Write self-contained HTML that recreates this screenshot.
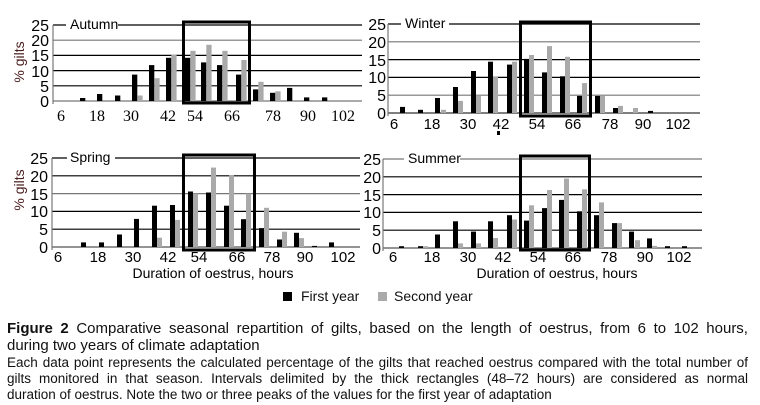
<!DOCTYPE html>
<html><head><meta charset="utf-8"><style>
body{margin:0;background:#fff;width:760px;height:405px;overflow:hidden;position:relative;font-family:"Liberation Sans",Arial,sans-serif;}
.cap{position:absolute;left:7px;width:741px;color:#111;white-space:nowrap;}
.j{text-align:justify;text-align-last:justify;white-space:normal;}
</style></head><body>
<svg width="760" height="290" style="position:absolute;left:0;top:0" font-family="Liberation Sans, Arial, sans-serif">
<!-- Autumn -->
<g stroke-width="1.2">
<line x1="53" y1="25" x2="362" y2="25" stroke="#000"/>
<line x1="53" y1="40.2" x2="362" y2="40.2" stroke="#777"/>
<line x1="53" y1="55.4" x2="362" y2="55.4" stroke="#000"/>
<line x1="53" y1="70.6" x2="362" y2="70.6" stroke="#000"/>
<line x1="53" y1="85.8" x2="362" y2="85.8" stroke="#000"/>
<line x1="53" y1="101" x2="362" y2="101" stroke="#777"/>
<line x1="53" y1="25" x2="53" y2="104" stroke="#777"/>
</g>
<rect x="66" y="17" width="52" height="14" fill="#fff"/>
<text x="70" y="29" font-size="14">Autumn</text>
<g font-size="16" text-anchor="end"><text x="49" y="31">25</text><text x="49" y="46">20</text><text x="49" y="61">15</text><text x="49" y="77">10</text><text x="49" y="92">5</text><text x="49" y="107">0</text></g>
<text transform="translate(24,62) rotate(-90)" font-size="14" text-anchor="middle" fill="#4a2020">% gilts</text>
<g fill="#000">
<rect x="80" y="98" width="5.3" height="3"/><rect x="97" y="94" width="5.3" height="7"/><rect x="115" y="95.5" width="5.3" height="5.5"/>
<rect x="132" y="74.6" width="5.3" height="26.4"/><rect x="149" y="65.1" width="5.3" height="35.9"/><rect x="166" y="57.8" width="5.3" height="43.2"/>
<rect x="185" y="57.8" width="5.3" height="43.2"/><rect x="201" y="62.4" width="5.3" height="38.6"/><rect x="217" y="65.1" width="5.3" height="35.9"/>
<rect x="236" y="74.6" width="5.3" height="26.4"/><rect x="253" y="89.4" width="5.3" height="11.6"/><rect x="270" y="92.8" width="5.3" height="8.2"/>
<rect x="287" y="87.9" width="5.3" height="13.1"/><rect x="304" y="97.4" width="5.3" height="3.6"/><rect x="322" y="97.4" width="5.3" height="3.6"/>
</g>
<g fill="#aaa">
<rect x="137.3" y="95.5" width="5.3" height="5.5"/><rect x="154.3" y="78.2" width="5.3" height="22.8"/><rect x="171.3" y="54.5" width="5.3" height="46.5"/>
<rect x="190.3" y="50.8" width="5.3" height="50.2"/><rect x="206.3" y="44.8" width="5.3" height="56.2"/><rect x="222.3" y="50.8" width="5.3" height="50.2"/>
<rect x="241.3" y="60" width="5.3" height="41"/><rect x="258.3" y="81.8" width="5.3" height="19.2"/><rect x="275.3" y="91.3" width="5.3" height="9.7"/>
</g>
<rect x="183.5" y="22" width="66" height="81" fill="none" stroke="#000" stroke-width="3"/>
<g font-size="16" text-anchor="middle" font-family="Liberation Serif, serif"><text x="61" y="121">6</text><text x="97" y="121">18</text><text x="131" y="121">30</text><text x="168" y="121">42</text><text x="195" y="121">54</text><text x="232" y="121">66</text><text x="273" y="121">78</text><text x="308" y="121">90</text><text x="343" y="121">102</text></g>
<!-- Winter -->
<g stroke-width="1.2">
<line x1="388" y1="24" x2="700" y2="24" stroke="#000"/>
<line x1="388" y1="41.8" x2="700" y2="41.8" stroke="#777"/>
<line x1="388" y1="59.6" x2="700" y2="59.6" stroke="#000"/>
<line x1="388" y1="77.4" x2="700" y2="77.4" stroke="#000"/>
<line x1="388" y1="95.2" x2="700" y2="95.2" stroke="#777"/>
<line x1="388" y1="113" x2="700" y2="113" stroke="#333"/>
<line x1="388" y1="24" x2="388" y2="116" stroke="#777"/>
</g>
<rect x="401" y="16" width="48" height="14" fill="#fff"/>
<text x="405" y="28" font-size="14">Winter</text>
<g font-size="16" text-anchor="end"><text x="386" y="30">25</text><text x="386" y="48">20</text><text x="386" y="66">15</text><text x="386" y="83">10</text><text x="386" y="101">5</text><text x="386" y="119">0</text></g>
<g fill="#000">
<rect x="400" y="106.9" width="5" height="6.1"/><rect x="418" y="109.8" width="5" height="3.2"/><rect x="435" y="98" width="5" height="15"/>
<rect x="453" y="87" width="5" height="26"/><rect x="471" y="71" width="5" height="42"/><rect x="488" y="61.7" width="5" height="51.3"/>
<rect x="507" y="64.6" width="5" height="48.4"/><rect x="524" y="58.9" width="5" height="54.1"/><rect x="542" y="72.4" width="5" height="40.6"/>
<rect x="560" y="76.3" width="5" height="36.7"/><rect x="577" y="95.9" width="5" height="17.1"/><rect x="595" y="95.9" width="5" height="17.1"/>
<rect x="613" y="108" width="5" height="5"/><rect x="648" y="110.9" width="5" height="2.1"/>
</g>
<g fill="#aaa">
<rect x="441" y="109.8" width="5" height="3.2"/><rect x="458" y="100.9" width="5" height="12.1"/><rect x="476" y="95.9" width="5" height="17.1"/>
<rect x="493" y="76.3" width="5" height="36.7"/><rect x="512" y="61.7" width="5" height="51.3"/><rect x="529" y="55" width="5" height="58"/>
<rect x="547" y="46.1" width="5" height="66.9"/><rect x="565" y="56.8" width="5" height="56.2"/><rect x="582" y="83.1" width="5" height="29.9"/>
<rect x="600" y="95.9" width="5" height="17.1"/><rect x="618" y="105.9" width="5" height="7.1"/><rect x="633" y="108" width="5" height="5"/>
</g>
<rect x="520.5" y="22" width="70" height="94" fill="none" stroke="#000" stroke-width="3"/>
<rect x="497" y="131" width="3" height="4" fill="#000"/>
<g font-size="15" text-anchor="middle"><text x="394" y="129">6</text><text x="432" y="129">18</text><text x="468" y="129">30</text><text x="501" y="129">42</text><text x="537" y="129">54</text><text x="573" y="129">66</text><text x="610" y="129">78</text><text x="643" y="129">90</text><text x="678" y="129">102</text></g>
<!-- Spring -->
<g stroke-width="1.2">
<line x1="52" y1="158" x2="360" y2="158" stroke="#000"/>
<line x1="52" y1="175.8" x2="360" y2="175.8" stroke="#000"/>
<line x1="52" y1="193.6" x2="360" y2="193.6" stroke="#777"/>
<line x1="52" y1="211.4" x2="360" y2="211.4" stroke="#000"/>
<line x1="52" y1="229.2" x2="360" y2="229.2" stroke="#000"/>
<line x1="52" y1="247" x2="360" y2="247" stroke="#555"/>
<line x1="52" y1="158" x2="52" y2="250" stroke="#777"/>
</g>
<rect x="67" y="150" width="48" height="14" fill="#fff"/>
<text x="70" y="162" font-size="14">Spring</text>
<g font-size="16" text-anchor="end"><text x="48" y="164">25</text><text x="48" y="182">20</text><text x="48" y="200">15</text><text x="48" y="217">10</text><text x="48" y="235">5</text><text x="48" y="253">0</text></g>
<text transform="translate(24,190) rotate(-90)" font-size="14" text-anchor="middle" fill="#4a2020">% gilts</text>
<g fill="#000">
<rect x="81" y="242.4" width="5" height="4.6"/><rect x="99" y="242.4" width="5" height="4.6"/><rect x="117" y="234.5" width="5" height="12.5"/>
<rect x="134" y="218.9" width="5" height="28.1"/><rect x="152" y="205.7" width="5" height="41.3"/><rect x="170" y="205" width="5" height="42"/>
<rect x="188" y="191.5" width="5" height="55.5"/><rect x="206" y="192.5" width="5" height="54.5"/><rect x="224" y="205.7" width="5" height="41.3"/>
<rect x="241" y="219.2" width="5" height="27.8"/><rect x="259" y="228.1" width="5" height="18.9"/><rect x="277" y="239.5" width="5" height="7.5"/>
<rect x="294" y="232.8" width="5" height="14.2"/><rect x="312" y="245.9" width="5" height="1.1"/><rect x="329" y="242.4" width="5" height="4.6"/>
</g>
<g fill="#aaa">
<rect x="157" y="237.7" width="5" height="9.3"/><rect x="175" y="219.9" width="5" height="27.1"/><rect x="193" y="193.6" width="5" height="53.4"/>
<rect x="211" y="167.6" width="5" height="79.4"/><rect x="229" y="175.1" width="5" height="71.9"/><rect x="246" y="193.6" width="5" height="53.4"/>
<rect x="264" y="207.8" width="5" height="39.2"/><rect x="282" y="231.7" width="5" height="15.3"/><rect x="299" y="238.1" width="5" height="8.9"/>
</g>
<rect x="183.5" y="155" width="71" height="95" fill="none" stroke="#000" stroke-width="3"/>
<g font-size="15" text-anchor="middle"><text x="58" y="262">6</text><text x="98" y="262">18</text><text x="133" y="262">30</text><text x="168" y="262">42</text><text x="199" y="262">54</text><text x="237" y="262">66</text><text x="272" y="262">78</text><text x="305" y="262">90</text><text x="343" y="262">102</text></g>
<text x="213" y="278" font-size="14" text-anchor="middle">Duration of oestrus, hours</text>
<!-- Summer -->
<g stroke-width="1.2">
<line x1="383" y1="159" x2="702" y2="159" stroke="#777"/>
<line x1="383" y1="176.8" x2="702" y2="176.8" stroke="#000"/>
<line x1="383" y1="194.6" x2="702" y2="194.6" stroke="#000"/>
<line x1="383" y1="212.4" x2="702" y2="212.4" stroke="#000"/>
<line x1="383" y1="230.2" x2="702" y2="230.2" stroke="#000"/>
<line x1="383" y1="248" x2="702" y2="248" stroke="#555"/>
<line x1="383" y1="159" x2="383" y2="251" stroke="#777"/>
</g>
<rect x="404" y="151" width="56" height="14" fill="#fff"/>
<text x="408" y="163" font-size="14">Summer</text>
<g font-size="16" text-anchor="end"><text x="381" y="165">25</text><text x="381" y="183">20</text><text x="381" y="201">15</text><text x="381" y="218">10</text><text x="381" y="236">5</text><text x="381" y="254">0</text></g>
<g fill="#000">
<rect x="399" y="246.2" width="5" height="1.8"/><rect x="418" y="246.2" width="5" height="1.8"/><rect x="435" y="234.5" width="5" height="13.5"/>
<rect x="453" y="221.3" width="5" height="26.7"/><rect x="471" y="231.6" width="5" height="16.4"/><rect x="488" y="221.3" width="5" height="26.7"/>
<rect x="507" y="215.2" width="5" height="32.8"/><rect x="524" y="220.6" width="5" height="27.4"/><rect x="542" y="208.1" width="5" height="39.9"/>
<rect x="559" y="199.9" width="5" height="48.1"/><rect x="577" y="211.3" width="5" height="36.7"/><rect x="594" y="215.2" width="5" height="32.8"/>
<rect x="612" y="223.1" width="5" height="24.9"/><rect x="629" y="231.6" width="5" height="16.4"/><rect x="647" y="238.4" width="5" height="9.6"/>
<rect x="665" y="246.2" width="5" height="1.8"/><rect x="682" y="246.2" width="5" height="1.8"/>
</g>
<g fill="#aaa">
<rect x="423" y="246.2" width="5" height="1.8"/><rect x="458" y="243.4" width="5" height="4.6"/><rect x="476" y="243.4" width="5" height="4.6"/>
<rect x="493" y="238" width="5" height="10"/><rect x="512" y="219.5" width="5" height="28.5"/><rect x="529" y="205.3" width="5" height="42.7"/>
<rect x="547" y="190" width="5" height="58"/><rect x="564" y="178.6" width="5" height="69.4"/><rect x="582" y="189.3" width="5" height="58.7"/>
<rect x="599" y="202.4" width="5" height="45.6"/><rect x="617" y="223.1" width="5" height="24.9"/><rect x="635" y="240.2" width="5" height="7.8"/>
<rect x="652" y="245.9" width="5" height="2.1"/>
</g>
<rect x="520.5" y="156" width="69" height="94" fill="none" stroke="#000" stroke-width="3"/>
<g font-size="15" text-anchor="middle"><text x="393" y="262">6</text><text x="432" y="262">18</text><text x="468" y="262">30</text><text x="503" y="262">42</text><text x="538" y="262">54</text><text x="573" y="262">66</text><text x="609" y="262">78</text><text x="645" y="262">90</text><text x="679" y="262">102</text></g>
<text x="557" y="278" font-size="14" text-anchor="middle">Duration of oestrus, hours</text>
</svg>
<div style="position:absolute;left:283px;top:292px;width:9px;height:9px;background:#000"></div>
<div class="cap" style="left:301px;top:288px;font-size:14px;width:auto">First year</div>
<div style="position:absolute;left:378px;top:292px;width:9px;height:9px;background:#aaa"></div>
<div class="cap" style="left:394px;top:288px;font-size:14px;width:auto">Second year</div>
<div class="cap j" style="top:320px;font-size:15px"><b>Figure 2</b> Comparative seasonal repartition of gilts, based on the length of oestrus, from 6 to 102 hours,</div>
<div class="cap" style="top:337px;font-size:15px">during two years of climate adaptation</div>
<div class="cap j" style="top:355px;font-size:13.5px">Each data point represents the calculated percentage of the gilts that reached oestrus compared with the total number of</div>
<div class="cap j" style="top:371px;font-size:13.5px">gilts monitored in that season. Intervals delimited by the thick rectangles (48–72 hours) are considered as normal</div>
<div class="cap" style="top:387px;font-size:13.5px">duration of oestrus. Note the two or three peaks of the values for the first year of adaptation</div>
</body></html>
